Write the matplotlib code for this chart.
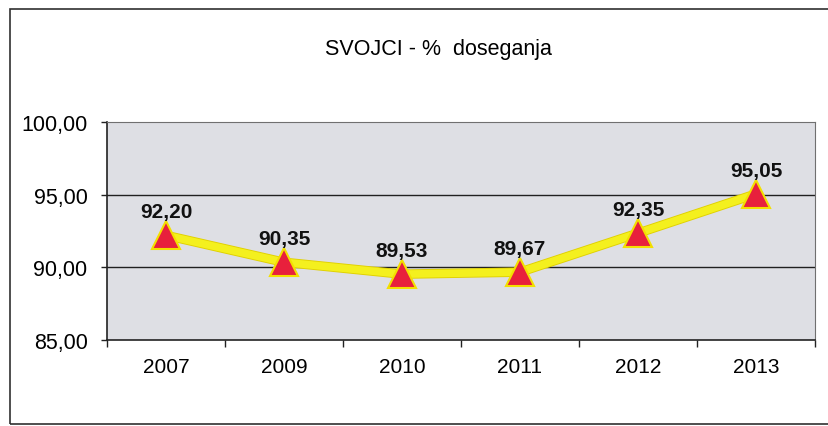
import matplotlib.pyplot as plt
import matplotlib.patheffects as pe
from matplotlib.patches import Rectangle
from matplotlib.ticker import FixedLocator

plt.rcParams['font.family'] = ['Liberation Sans', 'DejaVu Sans']

years = ["2007", "2009", "2010", "2011", "2012", "2013"]
values = [92.20, 90.35, 89.53, 89.67, 92.35, 95.05]
y_ticks = [85, 90, 95, 100]

fig = plt.figure(figsize=(8.29, 4.27), dpi=100)
fig.patch.set_facecolor("white")

# outer chart border (runs off the right edge like the scan)
fig.patches.append(Rectangle((10 / 829, 2 / 427), 1.0, 415 / 427, transform=fig.transFigure,
                             fill=False, edgecolor="#303030", linewidth=1.2))

ax = fig.add_axes([107 / 829, 86 / 427, 708 / 829, 218 / 427])
ax.set_facecolor("#dedfe4")

x = list(range(len(years)))
ax.plot(x, values, color="#f4f01e", linewidth=5.5, zorder=3,
        path_effects=[pe.Stroke(linewidth=6.8, foreground="#e0d000"), pe.Normal()])
ax.plot(x, values, linestyle="none", marker="^", markersize=19.5,
        markerfacecolor="#e8203c", markeredgecolor="#f3e000", markeredgewidth=1.5, zorder=4)

for xi, v in zip(x, values):
    ax.annotate(f"{v:.2f}".replace(".", ","), (xi, v), xytext=(0, 10), textcoords="offset points",
                ha="center", va="bottom", fontsize=15, fontweight="bold", color="#111111", zorder=5)

ax.set_xlim(-0.5, len(years) - 0.5)
ax.set_ylim(85, 100)
ax.set_yticks(y_ticks)
ax.set_yticklabels([f"{t:.2f}".replace(".", ",") for t in y_ticks], fontsize=15.5)
ax.set_xticks(x)
ax.set_xticklabels(years, fontsize=15)
ax.xaxis.set_minor_locator(FixedLocator([i - 0.5 for i in range(len(years) + 1)]))
ax.tick_params(axis="x", which="major", length=0, pad=12)
ax.tick_params(axis="x", which="minor", length=5, width=1, direction="out", color="#222222")
ax.tick_params(axis="y", length=4, width=1, pad=10, color="#222222")

for t in [90, 95]:
    ax.axhline(t, color="#202020", linewidth=1, zorder=2)

ax.spines["left"].set_color("#222222")
ax.spines["bottom"].set_color("#222222")
ax.spines["left"].set_linewidth(1.2)
ax.spines["bottom"].set_linewidth(1.2)
ax.spines["top"].set_color("#707070")
ax.spines["right"].set_color("#707070")

fig.text(438 / 829, 1 - 49 / 427, "SVOJCI - %  doseganja", ha="center", va="center", fontsize=15.5)

fig.savefig("out.png", dpi=100)
